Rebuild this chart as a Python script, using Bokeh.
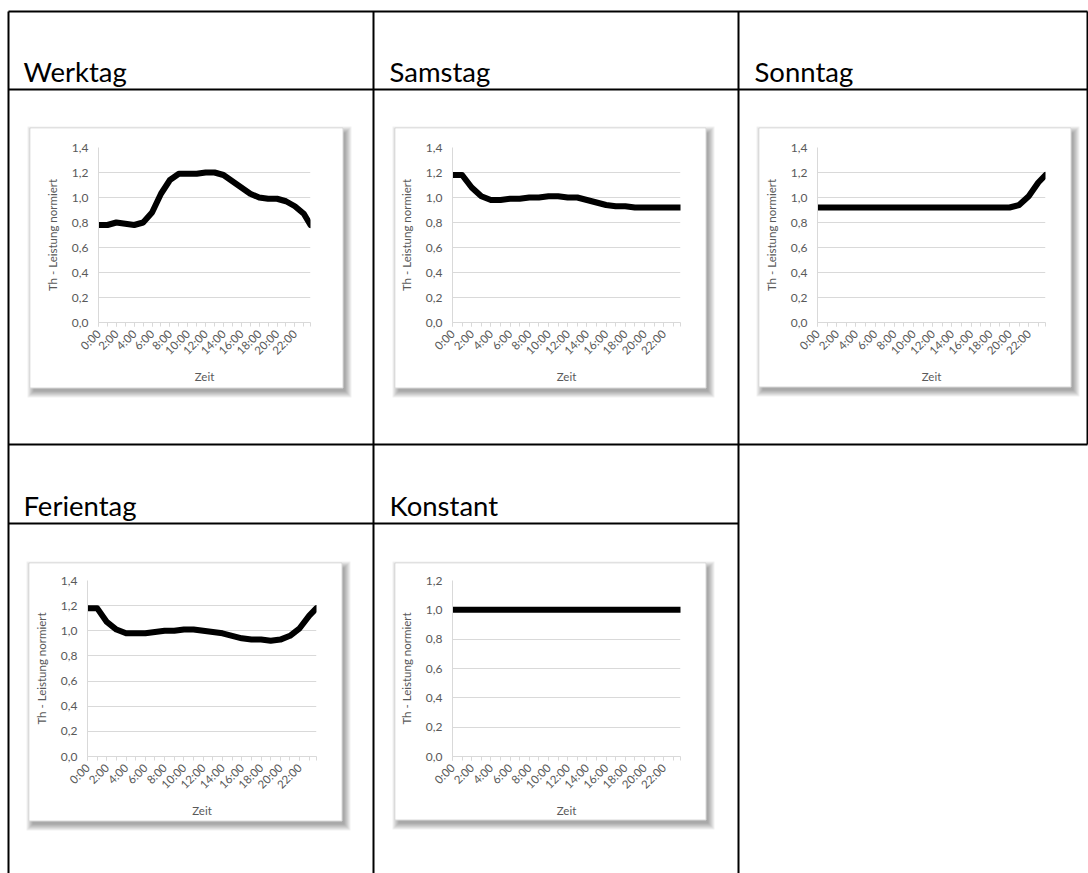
import math
from bokeh.plotting import figure
from bokeh.models import Range1d, FixedTicker, CustomJSTickFormatter, GridBox
from bokeh.core.properties import value
from bokeh.embed import file_html
from bokeh.resources import INLINE

# ---------------- data ----------------
hours = [0, 1, 2, 3, 4, 5, 6, 7, 8, 9, 10, 11, 12, 13, 14, 15, 16, 17, 18, 19, 20, 21, 22, 23, 23.75]
x_tick_hours = [0, 2, 4, 6, 8, 10, 12, 14, 16, 18, 20, 22]
x_tick_labels = ["0:00", "2:00", "4:00", "6:00", "8:00", "10:00", "12:00", "14:00",
                 "16:00", "18:00", "20:00", "22:00"]
y_ticks = [0.0, 0.2, 0.4, 0.6, 0.8, 1.0, 1.2, 1.4]
y_tick_labels = ["0,0", "0,2", "0,4", "0,6", "0,8", "1,0", "1,2", "1,4"]

werktag = [0.78, 0.78, 0.80, 0.79, 0.78, 0.80, 0.88, 1.03, 1.14, 1.19, 1.19, 1.19, 1.20,
           1.20, 1.18, 1.13, 1.08, 1.03, 1.00, 0.99, 0.99, 0.97, 0.93, 0.87, 0.78]
samstag = [1.18, 1.18, 1.08, 1.01, 0.98, 0.98, 0.99, 0.99, 1.00, 1.00, 1.01, 1.01, 1.00,
           1.00, 0.98, 0.96, 0.94, 0.93, 0.93, 0.92, 0.92, 0.92, 0.92, 0.92, 0.92]
sonntag = [0.92, 0.92, 0.92, 0.92, 0.92, 0.92, 0.92, 0.92, 0.92, 0.92, 0.92, 0.92, 0.92,
           0.92, 0.92, 0.92, 0.92, 0.92, 0.92, 0.92, 0.92, 0.94, 1.01, 1.12, 1.18]
ferientag = [1.18, 1.18, 1.07, 1.01, 0.98, 0.98, 0.98, 0.99, 1.00, 1.00, 1.01, 1.01, 1.00,
             0.99, 0.98, 0.96, 0.94, 0.93, 0.93, 0.92, 0.93, 0.96, 1.02, 1.12, 1.18]
konstant = [1.0, 1.0, 1.0, 1.0, 1.0, 1.0, 1.0, 1.0, 1.0, 1.0, 1.0, 1.0, 1.0,
            1.0, 1.0, 1.0, 1.0, 1.0, 1.0, 1.0, 1.0, 1.0, 1.0, 1.0, 1.0]

titles = ["Werktag", "Samstag", "Sonntag", "Ferientag", "Konstant"]
series = [werktag, samstag, sonntag, ferientag, konstant]
y_max = [1.4, 1.4, 1.4, 1.4, 1.2]
y_title = "Th - Leistung normiert"
x_title = "Zeit"

# ---------------- layout (page pixels) ----------------
PAGE_W, PAGE_H = 1088, 873
title_pos = [(23, 71), (389, 71), (754, 71), (23, 505), (389, 505)]
# chart box (left, top, right, bottom) and plot frame (left, top, right, bottom)
boxes = [(30, 128, 342, 387), (395, 128, 705, 387), (759, 128, 1070, 386),
         (29, 563, 341, 820), (395, 563, 705, 819)]
frames = [(98, 147, 310, 322), (452, 147, 680, 322), (817, 147, 1045, 322),
          (87, 580, 316, 756), (452, 580, 680, 756)]

vlines = [(8, 11, 8, 873), (373, 11, 373, 873), (738, 11, 738, 873), (1087, 11, 1087, 444)]
hlines = [(8, 11, 1087, 11), (8, 89, 1087, 89), (8, 444, 1087, 444), (8, 523, 738, 523)]

HEAD_FONT = "Lato"
CHART_FONT = "Lato"
GRID = "#d9d9d9"
LABEL = "#595959"

# ---------------- background: table, headers, chart frames ----------------
bg = figure(width=PAGE_W, height=PAGE_H, x_range=Range1d(0, PAGE_W), y_range=Range1d(PAGE_H, 0),
            output_backend="svg", toolbar_location=None, x_axis_type=None, y_axis_type=None,
            min_border=0, frame_align=False)
bg.grid.visible = False
bg.outline_line_color = None
bg.background_fill_color = "white"
bg.border_fill_color = "white"

segs = vlines + hlines
bg.segment(x0=[s[0] for s in segs], y0=[s[1] for s in segs],
           x1=[s[2] for s in segs], y1=[s[3] for s in segs],
           line_color="black", line_width=2)

bg.text(x=[p[0] for p in title_pos], y=[p[1] for p in title_pos], text=titles,
        text_font=value(HEAD_FONT), text_font_size="27.5px", text_color="black",
        text_baseline="alphabetic", text_align="left")

for (L, T, R, B) in boxes:
    for k in range(7):
        bg.quad(left=[L + 3 - k], right=[R + 3 + k], top=[T + 4 - k], bottom=[B + 4 + k],
                fill_color="black", fill_alpha=0.055, line_color=None)
    bg.quad(left=[L - 0.5], right=[R + 0.5], top=[T - 0.5], bottom=[B + 0.5],
            fill_color="white", line_color=GRID, line_width=1)


# ---------------- charts ----------------
def make_chart(vals, box, frame, ymax):
    L, T, R, B = box
    l, t, r, b = frame
    p = figure(width=R - L, height=B - T,
               x_range=Range1d(0, 23.75), y_range=Range1d(0, ymax),
               output_backend="svg", toolbar_location=None, frame_align=False,
               min_border_left=l - L, min_border_right=R - r,
               min_border_top=t - T, min_border_bottom=B - b)
    p.margin = (T, 0, 0, L)
    p.background_fill_color = "white"
    p.border_fill_color = "white"
    p.outline_line_color = None

    yt = [v for v in y_ticks if v <= ymax + 1e-9]
    yticker = FixedTicker(ticks=yt)
    p.yaxis.ticker = yticker
    p.yaxis.formatter = CustomJSTickFormatter(args=dict(labels=y_tick_labels),
                                              code="return labels[Math.round(tick / 0.2)];")
    p.ygrid.ticker = yticker
    p.ygrid.grid_line_color = GRID
    p.ygrid.grid_line_width = 1
    p.xgrid.visible = False

    p.yaxis.axis_line_color = GRID
    p.yaxis.major_tick_out = 0
    p.yaxis.major_tick_in = 0
    p.yaxis.minor_tick_out = 0
    p.yaxis.minor_tick_in = 0
    p.yaxis.major_label_standoff = 10
    p.yaxis.major_label_text_font = CHART_FONT
    p.yaxis.major_label_text_font_size = "12px"
    p.yaxis.major_label_text_color = LABEL
    p.yaxis.axis_label = y_title
    p.yaxis.axis_label_text_font = CHART_FONT
    p.yaxis.axis_label_text_font_size = "11.5px"
    p.yaxis.axis_label_text_font_style = "normal"
    p.yaxis.axis_label_text_color = LABEL
    p.yaxis.axis_label_standoff = 10

    p.xaxis.ticker = FixedTicker(ticks=x_tick_hours, minor_ticks=hours)
    p.xaxis.formatter = CustomJSTickFormatter(args=dict(labels=x_tick_labels),
                                              code="return labels[Math.round(tick / 2)];")
    p.xaxis.axis_line_color = GRID
    p.xaxis.major_tick_line_color = GRID
    p.xaxis.minor_tick_line_color = GRID
    p.xaxis.major_tick_out = 4
    p.xaxis.major_tick_in = 0
    p.xaxis.minor_tick_out = 4
    p.xaxis.minor_tick_in = 0
    p.xaxis.major_label_orientation = math.pi / 4
    p.xaxis.major_label_standoff = 5
    p.xaxis.major_label_text_font = CHART_FONT
    p.xaxis.major_label_text_font_size = "11.5px"
    p.xaxis.major_label_text_color = LABEL
    p.xaxis.axis_label = x_title
    p.xaxis.axis_label_text_font = CHART_FONT
    p.xaxis.axis_label_text_font_size = "11.5px"
    p.xaxis.axis_label_text_font_style = "normal"
    p.xaxis.axis_label_text_color = LABEL
    p.xaxis.axis_label_standoff = 5

    p.line(hours, vals, line_color="black", line_width=6,
           line_join="round", line_cap="round")
    return p


charts = [make_chart(v, bx, fr, ym) for v, bx, fr, ym in zip(series, boxes, frames, y_max)]

layout = GridBox(children=[(bg, 0, 0)] + [(c, 0, 0) for c in charts])

open("out.html", "w").write(file_html(layout, INLINE))
